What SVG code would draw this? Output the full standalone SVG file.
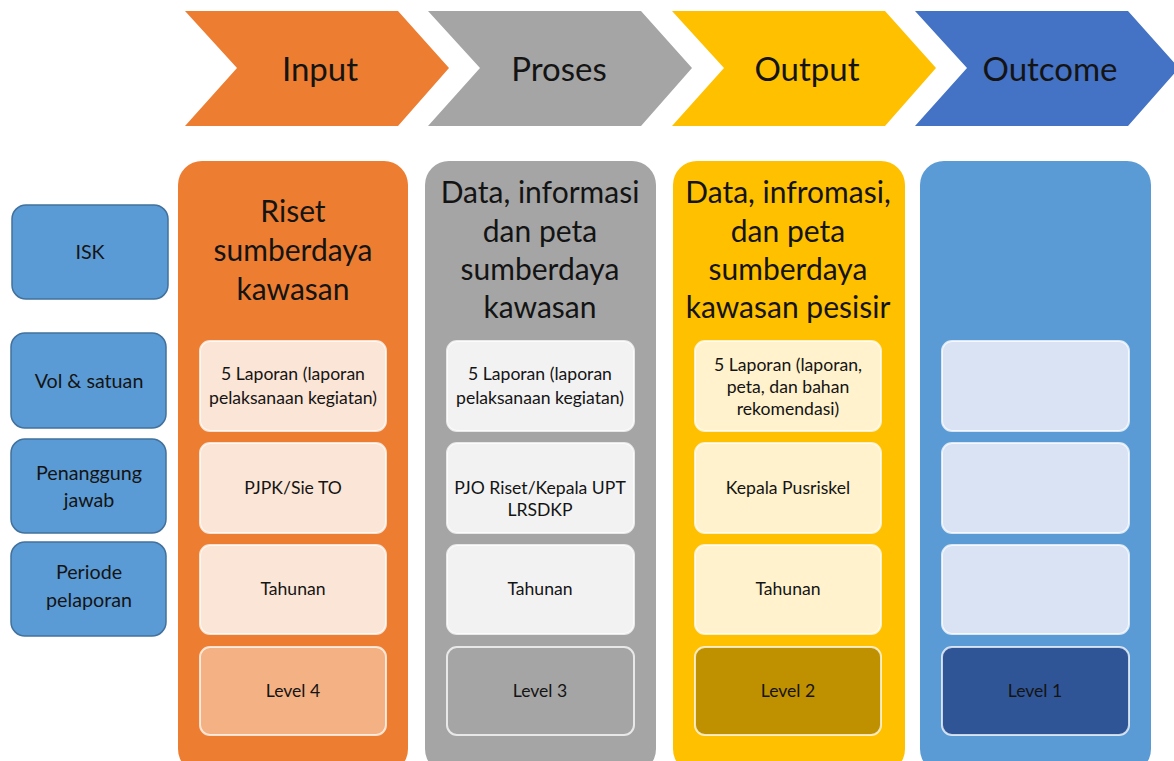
<svg xmlns="http://www.w3.org/2000/svg" width="1174" height="761" viewBox="0 0 1174 761">
<style>
text{font-family:Lato,"Liberation Sans",sans-serif;fill:#141414;text-anchor:middle}
.chev{font-size:33px}
.title{font-size:30px}
.lab{font-size:19.7px}
.in{font-size:17.6px}
.side{fill:#5B9BD5;stroke:#41719C;stroke-width:1.5}
.box{stroke:#ffffff;stroke-opacity:0.75;stroke-width:2}
</style>
<rect width="1174" height="761" fill="#ffffff"/>
<g id="connectors"></g>
<g id="chevron-input"><polygon points="185,11 398,11 449,68 398,126 185,126 237,68" fill="#ED7D31"/><text class="chev" x="320" y="81">Input</text></g>
<g id="chevron-proses"><polygon points="428,11 641,11 692,68 641,126 428,126 480,68" fill="#A5A5A5"/><text class="chev" x="559" y="81">Proses</text></g>
<g id="chevron-output"><polygon points="672,11 885,11 936,68 885,126 672,126 724,68" fill="#FFC000"/><text class="chev" x="807" y="81">Output</text></g>
<g id="chevron-outcome"><polygon points="915,11 1128,11 1179,68 1128,126 915,126 967,68" fill="#4472C4"/><text class="chev" x="1050" y="81">Outcome</text></g>

<g id="label-isk"><rect class="side" x="12" y="205" width="156" height="94" rx="14"/><text class="lab" x="90" y="259">ISK</text></g>
<g id="label-vol"><rect class="side" x="11" y="333" width="155" height="95" rx="14"/><text class="lab" x="89" y="388">Vol &amp; satuan</text></g>
<g id="label-pj"><rect class="side" x="11" y="439" width="155" height="94" rx="14"/><text class="lab" x="89" y="480">Penanggung</text><text class="lab" x="89" y="507">jawab</text></g>
<g id="label-periode"><rect class="side" x="11" y="542" width="155" height="94" rx="14"/><text class="lab" x="89" y="579">Periode</text><text class="lab" x="89" y="607">pelaporan</text></g>

<g id="col-input">
<rect x="178" y="161" width="230" height="612" rx="24" fill="#ED7D31"/>
<text class="title" x="293" y="222">Riset</text><text class="title" x="293" y="261">sumberdaya</text><text class="title" x="293" y="300">kawasan</text>
<rect class="box" x="200" y="341" width="186" height="90" rx="10" fill="#FBE5D6"/>
<text class="in" x="293" y="380">5 Laporan (laporan</text><text class="in" x="293" y="404">pelaksanaan kegiatan)</text>
<rect class="box" x="200" y="443" width="186" height="90" rx="10" fill="#FBE5D6"/>
<text class="in" x="293" y="494">PJPK/Sie TO</text>
<rect class="box" x="200" y="545" width="186" height="89" rx="10" fill="#FBE5D6"/>
<text class="in" x="293" y="595">Tahunan</text>
<rect class="box" x="200" y="647" width="186" height="88" rx="10" fill="#F4B183"/>
<text class="in" x="293" y="697">Level 4</text>
</g>

<g id="col-proses">
<rect x="425" y="161" width="231" height="612" rx="24" fill="#A5A5A5"/>
<text class="title" x="540" y="203">Data, informasi</text><text class="title" x="540" y="242">dan peta</text><text class="title" x="540" y="280">sumberdaya</text><text class="title" x="540" y="318">kawasan</text>
<rect class="box" x="447" y="341" width="187" height="90" rx="10" fill="#F2F2F2"/>
<text class="in" x="540" y="380">5 Laporan (laporan</text><text class="in" x="540" y="404">pelaksanaan kegiatan)</text>
<rect class="box" x="447" y="443" width="187" height="90" rx="10" fill="#F2F2F2"/>
<text class="in" x="540" y="494">PJO Riset/Kepala UPT</text><text class="in" x="540" y="516">LRSDKP</text>
<rect class="box" x="447" y="545" width="187" height="89" rx="10" fill="#F2F2F2"/>
<text class="in" x="540" y="595">Tahunan</text>
<rect class="box" x="447" y="647" width="187" height="88" rx="10" fill="#A5A5A5"/>
<text class="in" x="540" y="697">Level 3</text>
</g>

<g id="col-output">
<rect x="673" y="161" width="232" height="612" rx="24" fill="#FFC000"/>
<text class="title" x="788" y="203">Data, infromasi,</text><text class="title" x="788" y="242">dan peta</text><text class="title" x="788" y="280">sumberdaya</text><text class="title" x="788" y="318">kawasan pesisir</text>
<rect class="box" x="695" y="341" width="186" height="90" rx="10" fill="#FFF2CC"/>
<text class="in" x="788" y="371">5 Laporan (laporan,</text><text class="in" x="788" y="393">peta, dan bahan</text><text class="in" x="788" y="415">rekomendasi)</text>
<rect class="box" x="695" y="443" width="186" height="90" rx="10" fill="#FFF2CC"/>
<text class="in" x="788" y="494">Kepala Pusriskel</text>
<rect class="box" x="695" y="545" width="186" height="89" rx="10" fill="#FFF2CC"/>
<text class="in" x="788" y="595">Tahunan</text>
<rect class="box" x="695" y="647" width="186" height="88" rx="10" fill="#BF9000"/>
<text class="in" x="788" y="697">Level 2</text>
</g>

<g id="col-outcome">
<rect x="920" y="161" width="231" height="612" rx="24" fill="#5B9BD5"/>
<rect class="box" x="942" y="341" width="187" height="90" rx="10" fill="#DAE3F3"/>
<rect class="box" x="942" y="443" width="187" height="90" rx="10" fill="#DAE3F3"/>
<rect class="box" x="942" y="545" width="187" height="89" rx="10" fill="#DAE3F3"/>
<rect class="box" x="942" y="647" width="187" height="88" rx="10" fill="#2F5597"/>
<text class="in" x="1035" y="697">Level 1</text>
</g>
</svg>
